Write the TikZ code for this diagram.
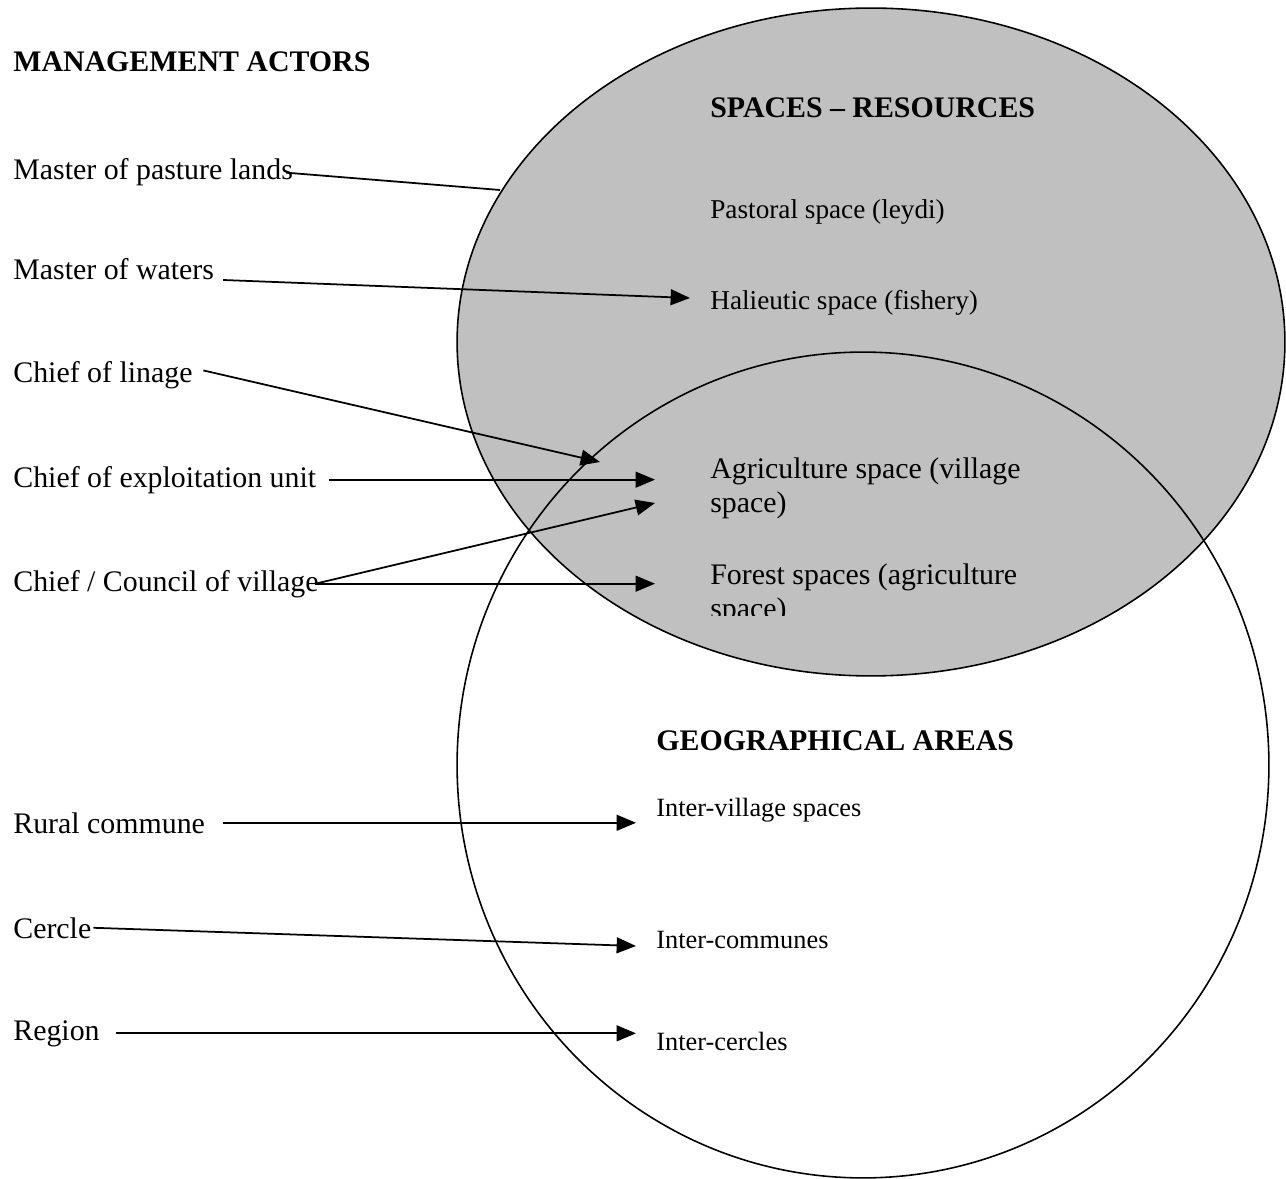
\documentclass[tikz,border=0pt]{standalone}
\usepackage{fontspec}
\setmainfont{Liberation Serif}
\usetikzlibrary{arrows.meta}
\definecolor{spacegray}{RGB}{192,192,192}

\begin{document}
\begin{tikzpicture}[x=0.02cm,y=-0.02cm,>={Triangle[length=11pt,width=9pt]},
  every node/.style={inner sep=0pt,anchor=base west},
  actor/.style={font=\fontsize{17}{19.5}\selectfont},
  small/.style={font=\fontsize{15.5}{19}\selectfont},
  inter/.style={font=\fontsize{15}{18}\selectfont},
  head/.style={font=\fontsize{17}{20}\selectfont\bfseries},
  link/.style={line width=1pt}]
  \useasboundingbox (0,0) rectangle (1286,1179);
  % Spaces and areas
  \fill[spacegray] (871,342) ellipse [x radius=8.28cm,y radius=6.68cm];
  \draw[line width=0.9pt] (863,765) ellipse [x radius=8.12cm,y radius=8.26cm];
  \draw[line width=0.9pt] (871,342) ellipse [x radius=8.28cm,y radius=6.68cm];
  % Management actors
  \node[head] (mgmt) at (13,72) {MANAGEMENT ACTORS};
  \node[actor] (pasture) at (13,180) {Master of pasture lands};
  \node[actor] (waters) at (13,280) {Master of waters};
  \node[actor] (linage) at (13,383) {Chief of linage};
  \node[actor] (unit) at (13,487) {Chief of exploitation unit};
  \node[actor] (village) at (13,591) {Chief / Council of village};
  \node[actor] (commune) at (13,833) {Rural commune};
  \node[actor] (cercle) at (13,938) {Cercle};
  \node[actor] (region) at (13,1040) {Region};
  % Spaces - resources
  \node[head] (spaces) at (710,118) {SPACES -- RESOURCES};
  \node[small] (pastoral) at (710,219) {Pastoral space (leydi)};
  \node[small] (halieutic) at (710,310) {Halieutic space (fishery)};
  \node[actor,align=left,anchor=north west] (agri) at (710,457) {Agriculture space (village\\space)};
  \begin{scope}
    \clip (700,540) rectangle (1100,615);
    \node[actor,align=left,anchor=north west] (forest) at (710,563) {Forest spaces (agriculture\\space)};
  \end{scope}
  % Geographical areas
  \node[head] (geo) at (656,750) {GEOGRAPHICAL AREAS};
  \node[inter] (intervillage) at (656,816) {Inter-village spaces};
  \node[inter] (intercommunes) at (656,948) {Inter-communes};
  \node[inter] (intercercles) at (656,1050) {Inter-cercles};
  % Arrow ends
  \coordinate (pastureend) at (500,190);
  \coordinate (halieutictip) at (690,298);
  \coordinate (linagetip) at (600,462);
  \coordinate (agritip) at (655,478);
  \coordinate (agritiplow) at (655,503);
  \coordinate (foresttip) at (655,585);
  \coordinate (villagetip) at (636,822);
  \coordinate (communetip) at (636,946);
  \coordinate (cercletip) at (636,1037);
  % Links
  \draw[link] ([xshift=-4pt]pasture.east) -- (pastureend);
  \draw[link,->] ([xshift=5pt]waters.base east) -- (halieutictip);
  \draw[link,->] ([xshift=6pt,yshift=3pt]linage.east) -- (linagetip);
  \draw[link,->] ([xshift=7pt]unit.east) -- (unit.east -| agritip);
  \draw[link,->] ([xshift=-2pt]village.east) -- (agritiplow);
  \draw[link,->] ([xshift=-2pt]village.east) -- (village.east -| foresttip);
  \draw[link,->] ([xshift=10pt]commune.east) -- (commune.east -| villagetip);
  \draw[link,->] ([xshift=1pt]cercle.east) -- (communetip);
  \draw[link,->] ([xshift=9pt]region.east) -- (region.east -| cercletip);
\end{tikzpicture}
\end{document}
